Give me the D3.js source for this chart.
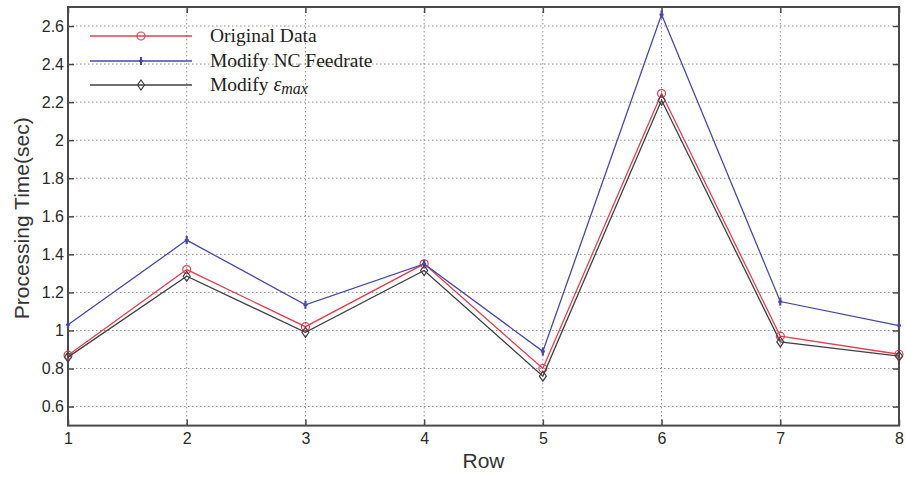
<!DOCTYPE html>
<html><head><meta charset="utf-8">
<script src="https://cdn.jsdelivr.net/npm/d3@7"></script>
<style>body{margin:0;background:#fff}svg{display:block}</style>
</head><body>
<svg id="c" width="906" height="477"></svg>
<script>
const rows = [1,2,3,4,5,6,7,8];
const originalData = [0.87,1.32,1.02,1.35,0.80,2.245,0.97,0.875];
const modifyFeedrate = [1.03,1.475,1.135,1.35,0.89,2.66,1.152,1.026];
const modifyEmax = [0.86,1.285,0.99,1.315,0.76,2.21,0.94,0.865];
const yTicks = [0.6,0.8,1,1.2,1.4,1.6,1.8,2,2.2,2.4,2.6];
const seriesNames = ["Original Data","Modify NC Feedrate","Modify εmax"];

const svg = d3.select("#c");
const L=68,R=899,T=7,B=425.6;
const x = d3.scaleLinear().domain([1,8]).range([L,R]);
const y = d3.scaleLinear().domain([0.5,2.7]).range([B,T]);
const axisColor="#4a4a4a";
const g = svg.append("g");

// grid
g.selectAll(".gx").data(rows.slice(1,-1)).enter().append("line")
 .attr("x1",d=>x(d)).attr("x2",d=>x(d)).attr("y1",T).attr("y2",B)
 .attr("stroke","#8f8f8f").attr("stroke-width",1).attr("stroke-dasharray","1.5,2.5");
g.selectAll(".gy").data(yTicks).enter().append("line")
 .attr("x1",L).attr("x2",R).attr("y1",d=>y(d)).attr("y2",d=>y(d))
 .attr("stroke","#8f8f8f").attr("stroke-width",1).attr("stroke-dasharray","1.5,2.5");

// axes
const ax = d3.axisBottom(x).tickValues(rows).tickSize(-6).tickPadding(6).tickFormat(d3.format("d"));
const ay = d3.axisLeft(y).tickValues(yTicks).tickSize(-6).tickPadding(4).tickFormat(d=>d3.format("~g")(d));
const gx = svg.append("g").attr("transform",`translate(0,${B})`).call(ax);
const gy = svg.append("g").attr("transform",`translate(${L},0)`).call(ay);
const axT = d3.axisTop(x).tickValues(rows).tickSize(-6).tickFormat("");
const axR = d3.axisRight(y).tickValues(yTicks).tickSize(-6).tickFormat("");
const gt = svg.append("g").attr("transform",`translate(0,${T})`).call(axT);
const gr = svg.append("g").attr("transform",`translate(${R},0)`).call(axR);
[gx,gy,gt,gr].forEach(a=>{
  a.select(".domain").remove();
  a.selectAll("line").attr("stroke",axisColor).attr("stroke-width",1.5);
  a.selectAll("text").attr("fill","#2a2a2a").style("font-family","Liberation Sans, Arial, sans-serif").style("font-size","16px");
});
gx.selectAll("text").attr("dy","0.75em").style("font-size","16px");
svg.append("rect").attr("x",L).attr("y",T).attr("width",R-L).attr("height",B-T)
 .attr("fill","none").attr("stroke",axisColor).attr("stroke-width",2);

// labels
svg.append("text").attr("x",(L+R)/2).attr("y",468).attr("text-anchor","middle")
 .style("font-family","Liberation Sans, Arial, sans-serif").style("font-size","21px").attr("fill","#333").text("Row");
svg.append("text").attr("transform",`translate(29,${(T+B)/2+2}) rotate(-90)`).attr("text-anchor","middle")
 .style("font-family","Liberation Sans, Arial, sans-serif").style("font-size","21px").attr("fill","#333").text("Processing Time(sec)");

const series = [
  {name:seriesNames[0],vals:originalData,color:"#e04050",marker:"circle"},
  {name:seriesNames[1],vals:modifyFeedrate,color:"#4848a8",marker:"plus"},
  {name:seriesNames[2],vals:modifyEmax,color:"#404040",marker:"diamond"}
];
const line = d3.line().x((d,i)=>x(rows[i])).y(d=>y(d));
function drawMarker(sel,type,cx,cy,color){
  if(type==="circle") sel.append("circle").attr("cx",cx).attr("cy",cy).attr("r",4).attr("fill","none").attr("stroke",color).attr("stroke-width",1.2);
  else if(type==="diamond") sel.append("path").attr("d",`M${cx},${cy-5}L${cx+3.5},${cy}L${cx},${cy+5}L${cx-3.5},${cy}Z`).attr("fill","none").attr("stroke",color).attr("stroke-width",1.2);
  else sel.append("path").attr("d",`M${cx},${cy-4}V${cy+4}M${cx-2},${cy}H${cx+2}`).attr("stroke",color).attr("stroke-width",2.2);
}
series.forEach(s=>{
  svg.append("path").datum(s.vals).attr("d",line).attr("fill","none").attr("stroke",s.color).attr("stroke-width",1.3);
  s.vals.forEach((v,i)=>drawMarker(svg,s.marker,x(rows[i]),y(v),s.color));
});

// legend
const legY=[36,61,85];
series.forEach((s,i)=>{
  svg.append("line").attr("x1",90).attr("x2",192).attr("y1",legY[i]).attr("y2",legY[i]).attr("stroke",s.color).attr("stroke-width",1.5);
  drawMarker(svg,s.marker,141,legY[i],s.color);
  const t = svg.append("text").attr("x",210).attr("y",legY[i]+6).attr("fill","#222")
   .style("font-family","Liberation Serif, Times New Roman, serif").style("font-size","19.5px");
  if(i===2){
    t.text("Modify ");
    t.append("tspan").style("font-style","italic").style("font-size","20px").text("ε");
    t.append("tspan").style("font-style","italic").attr("dy",3).style("font-size","16px").text("max");
  } else t.text(s.name);
});
</script>
</body></html>
